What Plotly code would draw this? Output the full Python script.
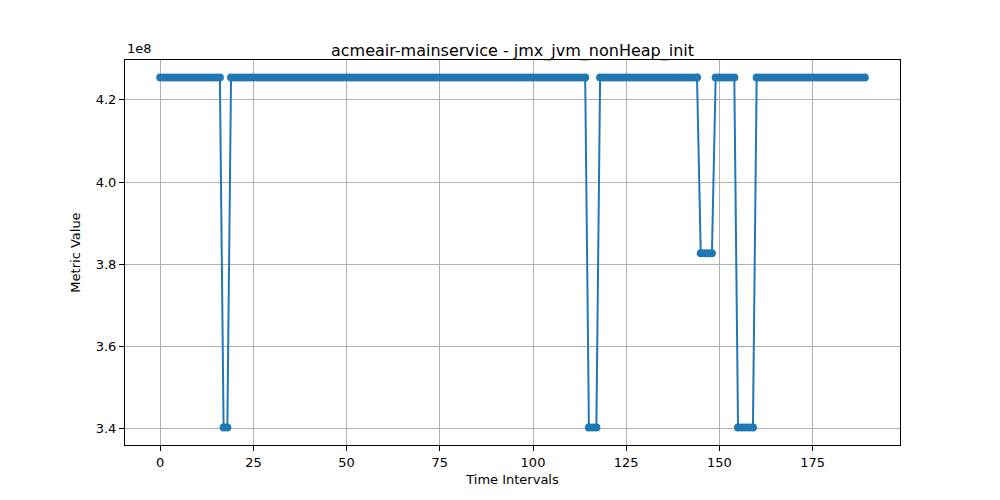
import plotly.graph_objects as go

HIGH = 425450000
MID = 382720000
LOW = 340300000

time_index = list(range(190))
low_idx = [17, 18, 115, 116, 117, 155, 156, 157, 158, 159]
mid_idx = [145, 146, 147, 148]
metric_values = [LOW if i in low_idx else (MID if i in mid_idx else HIGH) for i in time_index]

x_ticks = [0, 25, 50, 75, 100, 125, 150, 175]
y_ticks = [340000000, 360000000, 380000000, 400000000, 420000000]
y_tick_labels = ["3.4", "3.6", "3.8", "4.0", "4.2"]

color = "#1f77b4"
font_family = "DejaVu Sans, Arial, sans-serif"

fig = go.Figure()
fig.add_trace(go.Scatter(
    x=time_index, y=metric_values, mode="lines+markers",
    line=dict(color=color, width=2),
    marker=dict(color=color, size=8, line=dict(width=0)),
    showlegend=False,
))

xmin, xmax = min(time_index), max(time_index)
xpad = 0.05 * (xmax - xmin)
ymin, ymax = min(metric_values), max(metric_values)
ypad = 0.05 * (ymax - ymin)

axis_common = dict(
    showline=True, linecolor="black", linewidth=1, mirror=True,
    showgrid=True, gridcolor="#b0b0b0", gridwidth=1,
    ticks="outside", ticklen=5, tickwidth=1, tickcolor="black",
    zeroline=False, tickfont=dict(size=13, color="black", family=font_family),
)

fig.update_layout(
    width=1000, height=500,
    margin=dict(l=125, r=100, t=60, b=55),
    plot_bgcolor="white", paper_bgcolor="white",
    font=dict(family=font_family, color="black"),
    title=dict(text="acmeair-mainservice - jmx_jvm_nonHeap_init",
               x=0.5, xanchor="center", xref="paper",
               y=1 - 56 / 500, yanchor="bottom", yref="container",
               font=dict(size=16, color="black", family=font_family)),
    xaxis=dict(range=[xmin - xpad, xmax + xpad], tickvals=x_ticks,
               title=dict(text="Time Intervals", font=dict(size=13), standoff=6),
               **axis_common),
    yaxis=dict(range=[ymin - ypad, ymax + ypad], tickvals=y_ticks, ticktext=y_tick_labels,
               title=dict(text="Metric Value", font=dict(size=13), standoff=12),
               **axis_common),
    annotations=[dict(text="1e8", x=0, y=1, xref="paper", yref="paper",
                      xanchor="left", yanchor="bottom", yshift=2, showarrow=False,
                      font=dict(size=13, color="black", family=font_family))],
)

fig.write_html("out.html")
